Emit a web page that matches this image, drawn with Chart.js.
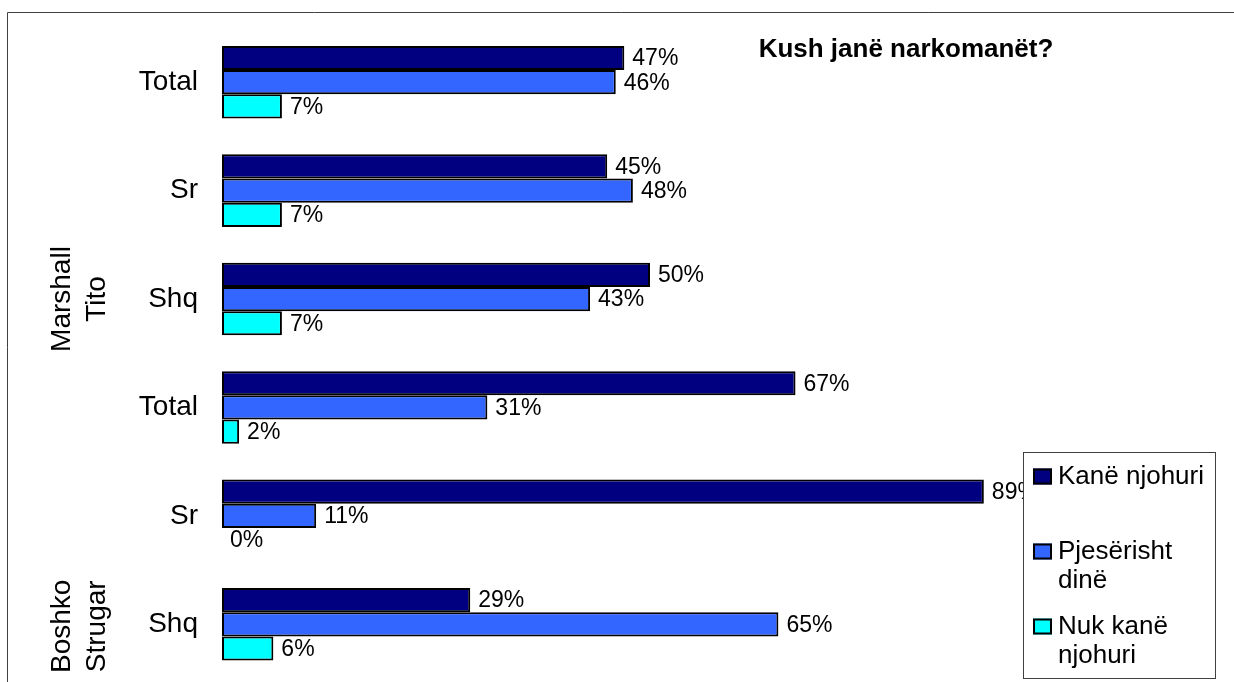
<!DOCTYPE html>
<html>
<head>
<meta charset="utf-8">
<title>Kush janë narkomanët?</title>
<script src="https://cdn.jsdelivr.net/npm/chart.js@4.4.1/dist/chart.umd.min.js"></script>
<style>
    html, body { margin: 0; padding: 0; background: #ffffff; }
    canvas { display: block; }
</style>
</head>
<body>
<canvas id="myBarChart" width="1234" height="682"></canvas>
<script>
// -------------------------------------------------------------------------- Data

const categories = ['Total', 'Sr', 'Shq', 'Total', 'Sr', 'Shq']
const groups = [['Marshall', 'Tito'], ['Boshko', 'Strugar']]
const groupAt = [2, 5]

const seriesNames = ['Kanë njohuri', 'Pjesërisht dinë', 'Nuk kanë njohuri']
const kaneNjohuri = [47, 45, 50, 67, 89, 29]
const pjeseriahtDine = [46, 48, 43, 31, 11, 65]
const nukKaneNjohuri = [7, 7, 7, 2, 0, 6]

const titleText = 'Kush janë narkomanët?'

// -------------------------------------------------------------------------- Look

let navy = '#000080'
let blue = '#3366ff'
let cyan = '#00ffff'
let font = '"Liberation Sans", Arial, sans-serif'

// -------------------------------------------------------------------------- Plugins

// value labels right of every bar
const valueLabels = {
    id: 'valueLabels',
    afterDatasetsDraw(chart) {
        const ctx = chart.ctx
        ctx.save()
        ctx.font = '23px ' + font
        ctx.fillStyle = '#000'
        ctx.textAlign = 'left'
        ctx.textBaseline = 'middle'
        chart.data.datasets.forEach((ds, i) => {
            chart.getDatasetMeta(i).data.forEach((bar, j) => {
                ctx.fillText(ds.data[j] + '%', bar.x + 8, bar.y + 1)
            })
        })
        ctx.restore()
    }
}

// frame, title, rotated group names and the legend box
const decorations = {
    id: 'decorations',
    afterDraw(chart) {
        const ctx = chart.ctx
        const y = chart.scales.y
        ctx.save()

        // outer frame (only top and left are inside the picture)
        ctx.strokeStyle = '#404040'
        ctx.lineWidth = 1
        ctx.beginPath()
        ctx.moveTo(7.5, 700)
        ctx.lineTo(7.5, 12.5)
        ctx.lineTo(1240, 12.5)
        ctx.stroke()

        // title
        ctx.fillStyle = '#000'
        ctx.font = 'bold 26px ' + font
        ctx.textAlign = 'center'
        ctx.textBaseline = 'alphabetic'
        ctx.fillText(titleText, 906, 57)

        // group names
        ctx.font = '28px ' + font
        groups.forEach((lines, g) => {
            const cy = y.getPixelForValue(groupAt[g]) + (g === 1 ? 2 : 0)
            lines.forEach((line, k) => {
                ctx.save()
                ctx.translate(70 + k * 35, cy)
                ctx.rotate(-Math.PI / 2)
                ctx.fillText(line, 0, 0)
                ctx.restore()
            })
        })

        // legend
        ctx.fillStyle = '#fff'
        ctx.fillRect(1023, 452, 192, 226)
        ctx.strokeStyle = '#404040'
        ctx.strokeRect(1023.5, 452.5, 192, 226)
        ctx.font = '26px ' + font
        ctx.textAlign = 'left'
        chart.data.datasets.forEach((ds, i) => {
            const base = 484 + i * 75
            ctx.fillStyle = ds.backgroundColor
            ctx.fillRect(1033, base - 15.5, 19, 16)
            ctx.strokeStyle = '#000'
            ctx.lineWidth = 2
            ctx.strokeRect(1034, base - 14.5, 17, 14)
            ctx.fillStyle = '#000'
            // wrap words into the box
            let lines = []
            let cur = ''
            ds.label.split(' ').forEach(w => {
                const test = cur ? cur + ' ' + w : w
                if (ctx.measureText(test).width > 152 && cur) {
                    lines.push(cur)
                    cur = w
                } else {
                    cur = test
                }
            })
            lines.push(cur)
            lines.forEach((l, k) => ctx.fillText(l, 1058, base + k * 28.5))
        })

        ctx.restore()
    }
}

// -------------------------------------------------------------------------- Bar Chart Config

const dataBarChart = {
    labels: categories,
    datasets: [kaneNjohuri, pjeseriahtDine, nukKaneNjohuri].map((values, i) => ({
        label: seriesNames[i],
        data: values,
        backgroundColor: [navy, blue, cyan][i],
        borderColor: '#000',
        borderWidth: 2,
        borderSkipped: false,
        categoryPercentage: 0.669,
        barPercentage: 1.0
    }))
}

const configBarChart = {
    type: 'bar',
    data: dataBarChart,
    options: {
        indexAxis: 'y',
        responsive: false,
        animation: false,
        devicePixelRatio: 1,
        layout: {
            padding: { left: 0, top: 28, right: 156, bottom: 3.5 }
        },
        plugins: {
            legend: { display: false },
            title: { display: false },
            tooltip: { enabled: false }
        },
        scales: {
            x: {
                display: false,
                min: 0,
                max: 100
            },
            y: {
                grid: { display: false, drawTicks: false },
                border: { display: false },
                ticks: {
                    color: '#000',
                    padding: 24,
                    font: { family: font, size: 28 }
                },
                afterFit(scale) {
                    scale.width = 222
                    scale.paddingTop = 0
                    scale.paddingBottom = 0
                }
            }
        }
    },
    plugins: [valueLabels, decorations]
}

// -------------------------------------------------------------------------- Render Chart
let myBarChart = new Chart(
    document.getElementById('myBarChart'),
    configBarChart
)
</script>
</body>
</html>
